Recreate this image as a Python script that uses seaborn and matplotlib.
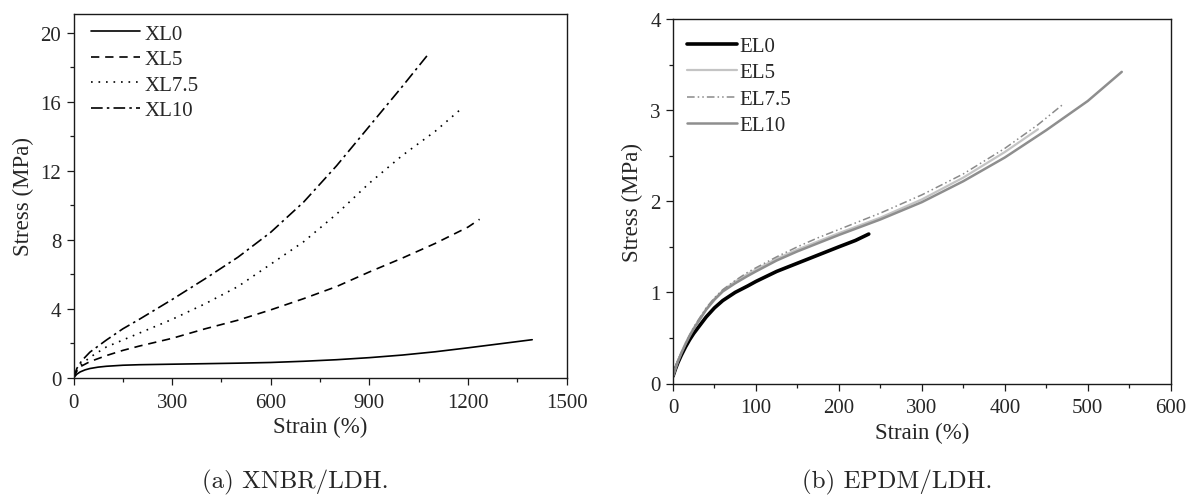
import numpy as np
import pandas as pd
import matplotlib
matplotlib.use("Agg")
import matplotlib.pyplot as plt
from matplotlib.ticker import MultipleLocator
import seaborn as sns

# ---------------- data ----------------
xl0_strain = [0, 10, 20, 35, 50, 75, 100, 150, 200, 300, 400, 500, 600, 700, 800, 900, 1000, 1100, 1200, 1300, 1395]
xl0_stress = [0, 0.22, 0.35, 0.47, 0.55, 0.63, 0.68, 0.74, 0.77, 0.80, 0.83, 0.86, 0.90, 0.97, 1.06, 1.18, 1.33, 1.52, 1.75, 1.99, 2.22]

xl5_strain = [0, 10, 25, 50, 100, 150, 200, 300, 400, 500, 600, 700, 800, 900, 1000, 1100, 1200, 1235]
xl5_stress = [0, 0.4, 0.7, 0.95, 1.3, 1.6, 1.85, 2.3, 2.85, 3.35, 3.95, 4.6, 5.3, 6.15, 6.95, 7.8, 8.75, 9.2]

xl75_strain = [0, 10, 25, 50, 100, 150, 200, 300, 400, 500, 600, 700, 800, 900, 1000, 1100, 1182]
xl75_stress = [0, 0.45, 0.8, 1.2, 1.8, 2.2, 2.6, 3.4, 4.3, 5.3, 6.6, 7.9, 9.5, 11.3, 12.9, 14.3, 15.65]

xl10_strain = [0, 10, 25, 50, 100, 150, 200, 300, 400, 500, 600, 700, 800, 900, 1000, 1082]
xl10_stress = [0, 0.55, 1.0, 1.5, 2.2, 2.85, 3.4, 4.55, 5.75, 7.0, 8.45, 10.2, 12.3, 14.6, 16.9, 18.84]

el0_strain = [0, 3, 6, 10, 15, 20, 25, 30, 40, 50, 60, 75, 90, 100, 125, 150, 175, 200, 220, 236]
el0_stress = [0.08, 0.16, 0.23, 0.31, 0.40, 0.48, 0.55, 0.61, 0.73, 0.83, 0.91, 1.00, 1.07, 1.12, 1.23, 1.32, 1.41, 1.50, 1.57, 1.64]

el5_strain = [0, 3, 6, 10, 15, 20, 25, 30, 40, 50, 60, 75, 90, 100, 125, 150, 175, 200, 250, 300, 350, 400, 440]
el5_stress = [0.08, 0.17, 0.25, 0.34, 0.44, 0.53, 0.61, 0.68, 0.82, 0.93, 1.02, 1.12, 1.20, 1.25, 1.37, 1.47, 1.56, 1.65, 1.82, 2.02, 2.26, 2.54, 2.79]

el75_strain = [0, 3, 6, 10, 15, 20, 25, 30, 40, 50, 60, 75, 90, 100, 125, 150, 175, 200, 250, 300, 350, 400, 440, 471]
el75_stress = [0.08, 0.17, 0.25, 0.34, 0.44, 0.53, 0.62, 0.69, 0.83, 0.94, 1.03, 1.13, 1.22, 1.27, 1.39, 1.50, 1.60, 1.69, 1.87, 2.07, 2.30, 2.58, 2.84, 3.07]

el10_strain = [0, 3, 6, 10, 15, 20, 25, 30, 40, 50, 60, 75, 90, 100, 125, 150, 175, 200, 250, 300, 350, 400, 450, 500, 541]
el10_stress = [0.08, 0.16, 0.24, 0.33, 0.43, 0.52, 0.60, 0.67, 0.81, 0.92, 1.01, 1.10, 1.18, 1.23, 1.35, 1.45, 1.54, 1.63, 1.80, 1.99, 2.22, 2.48, 2.78, 3.10, 3.42]

left_labels = ["XL0", "XL5", "XL7.5", "XL10"]
right_labels = ["EL0", "EL5", "EL7.5", "EL10"]
left_xticks = [0, 300, 600, 900, 1200, 1500]
left_yticks = [0, 4, 8, 12, 16, 20]
right_xticks = [0, 100, 200, 300, 400, 500, 600]
right_yticks = [0, 1, 2, 3, 4]
captions = ["(a) XNBR/LDH.", "(b) EPDM/LDH."]

# ---------------- style ----------------
sns.set_style("ticks")
plt.rcParams["font.family"] = ["Liberation Serif", "DejaVu Serif"]
plt.rcParams["xtick.direction"] = "out"
plt.rcParams["ytick.direction"] = "out"

W, H = 1186, 502
fig = plt.figure(figsize=(W / 100, H / 100), dpi=100)
# axes boxes in pixels: left, top, right, bottom
axL = fig.add_axes([73.5 / W, 1 - 379 / H, (566.7 - 73.5) / W, (379 - 15) / H])
axR = fig.add_axes([673 / W, 1 - 384.5 / H, (1170.7 - 673) / W, (384.5 - 20) / H])

left_series = [(xl0_strain, xl0_stress), (xl5_strain, xl5_stress),
               (xl75_strain, xl75_stress), (xl10_strain, xl10_stress)]
left_styles = [dict(color="black", lw=1.2, ls="-"),
               dict(color="black", lw=1.2, ls=(0, (5, 3.5))),
               dict(color="black", lw=1.2, ls=(0, (1, 3.5))),
               dict(color="black", lw=1.2, ls=(0, (7, 2.5, 1.5, 2.5)))]
for (sx, sy), lab, st in zip(left_series, left_labels, left_styles):
    df = pd.DataFrame({"Strain": sx, "Stress": sy})
    sns.lineplot(data=df, x="Strain", y="Stress", ax=axL, sort=False,
                 estimator=None, label=lab, color=st["color"], lw=st["lw"],
                 linestyle=st["ls"])

right_series = [(el0_strain, el0_stress), (el5_strain, el5_stress),
                (el75_strain, el75_stress), (el10_strain, el10_stress)]
right_styles = [dict(color="black", lw=2.6, ls="-"),
                dict(color="#c4c4c4", lw=1.6, ls="-"),
                dict(color="#8a8a8a", lw=1.1, ls=(0, (5, 2, 1, 2, 1, 2))),
                dict(color="#8e8e8e", lw=1.8, ls="-")]
for (sx, sy), lab, st in zip(right_series, right_labels, right_styles):
    df = pd.DataFrame({"Strain": sx, "Stress": sy})
    sns.lineplot(data=df, x="Strain", y="Stress", ax=axR, sort=False,
                 estimator=None, label=lab, color=st["color"], lw=st["lw"],
                 linestyle=st["ls"])

# axes formatting
axL.set_xlim(0, 1500)
axL.set_ylim(0, 21.1)
axL.set_xticks(left_xticks)
axL.set_yticks(left_yticks)
axL.xaxis.set_minor_locator(MultipleLocator(150))
axL.yaxis.set_minor_locator(MultipleLocator(2))

axR.set_xlim(0, 600)
axR.set_ylim(0, 4)
axR.set_xticks(right_xticks)
axR.set_yticks(right_yticks)
axR.xaxis.set_minor_locator(MultipleLocator(50))
axR.yaxis.set_minor_locator(MultipleLocator(0.5))

for ax in (axL, axR):
    for s in ax.spines.values():
        s.set_visible(True)
        s.set_color("#1a1a1a")
        s.set_linewidth(1.0)
    ax.tick_params(which="major", length=4.8, width=0.9, labelsize=15, pad=4, color="#1a1a1a")
    ax.tick_params(axis="x", which="major", pad=6)
    ax.tick_params(which="minor", length=3.0, width=0.9, color="#1a1a1a")
    ax.set_xlabel("Strain (%)", fontsize=16.5, labelpad=3)
    ax.set_ylabel("Stress (MPa)", fontsize=16.5, labelpad=5)
    ax.grid(False)

legL = axL.legend(loc="upper left", frameon=False, fontsize=15, handlelength=2.35,
                  handletextpad=0.25, labelspacing=0.28, borderaxespad=0.0,
                  borderpad=0.4, bbox_to_anchor=(0.018, 0.995))
legR = axR.legend(loc="upper left", frameon=False, fontsize=15, handlelength=2.4,
                  handletextpad=0.1, labelspacing=0.33, borderaxespad=0.0,
                  borderpad=0.4, bbox_to_anchor=(0.012, 0.975))

fig.text(295 / W, 1 - 482 / H, captions[0], ha="center", va="center",
         fontsize=18, family=["cmr10", "DejaVu Serif"])
fig.text(897 / W, 1 - 482 / H, captions[1], ha="center", va="center",
         fontsize=18, family=["cmr10", "DejaVu Serif"])

fig.savefig("out.png", dpi=100)
